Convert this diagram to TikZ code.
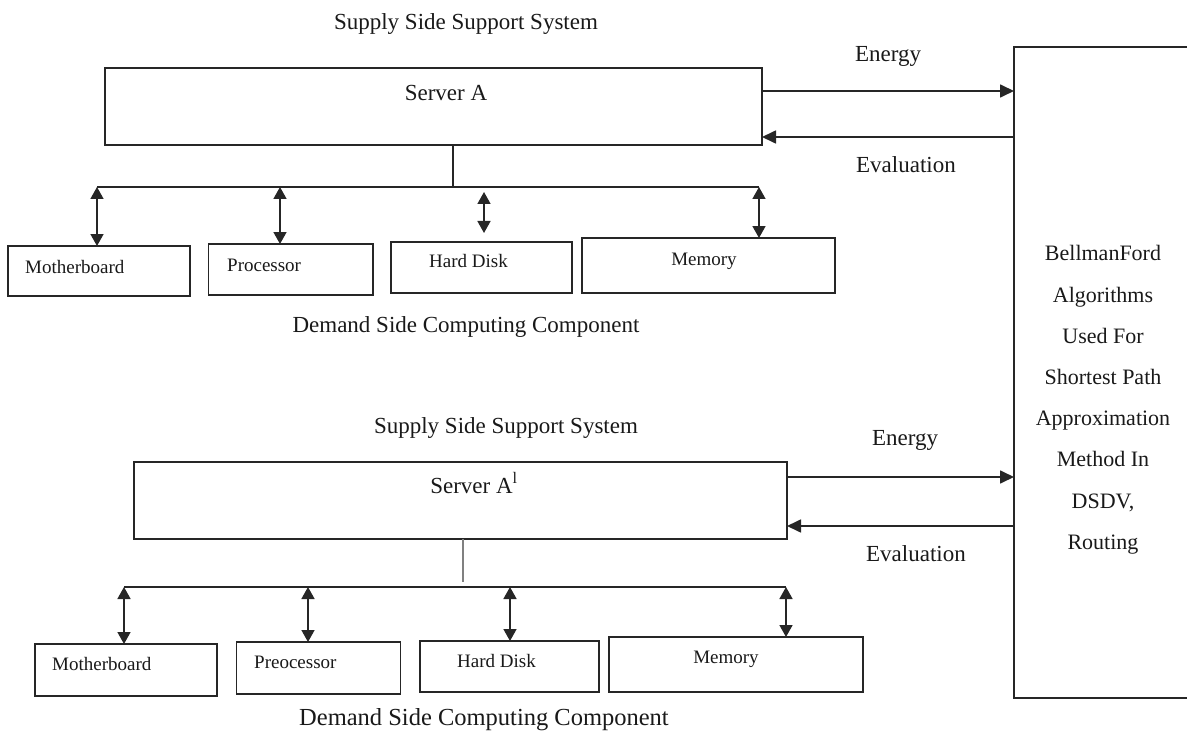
\documentclass[tikz,border=0pt]{standalone}
\usepackage{fontspec}
\setmainfont{Liberation Serif}
\usetikzlibrary{arrows.meta}
\begin{document}
\begin{tikzpicture}[x=1pt,y=-1pt,
  box/.style={draw=black!85,line width=1.7pt,inner sep=0pt,outer sep=0pt},
  bus/.style={draw=black!85,line width=1.7pt},
  stub/.style={draw=black!50,line width=1.9pt},
  captxt/.style={font=\fontsize{23}{27}\selectfont,inner sep=0pt,text=black!90},
  bigcaptxt/.style={font=\fontsize{24.5}{28}\selectfont,inner sep=0pt,text=black!90},
  lab/.style={font=\fontsize{19}{22}\selectfont,inner sep=0pt,text=black!90},
  arr/.style={draw=black!85,line width=1.7pt,-{Triangle[length=14pt,width=13pt]}},
  darr/.style={draw=black!85,line width=1.7pt,{Triangle[length=12pt,width=13pt]}-{Triangle[length=12pt,width=13pt]}}
]
\useasboundingbox (0,0) rectangle (1187,733);
\clip (0,0) rectangle (1187,733);

% ---------- right box ----------
\node[box,minimum width=200pt,minimum height=651pt] (rb) at (1114,372.5) {};
\node[font=\fontsize{22}{41.2}\selectfont,inner sep=0pt,align=center,anchor=north,text=black!90] (rbt) at (1103,245.5)
  {BellmanFord\\Algorithms\\Used For\\Shortest Path\\Approximation\\Method In\\DSDV,\\Routing};

% ---------- top section ----------
\node[captxt,anchor=base] (sss1) at (466,30) {Supply Side Support System};
\node[box,minimum width=657pt,minimum height=77pt] (sA) at (433.5,106.5) {};
\node[captxt,anchor=base] (sAt) at (446,101) {Server A};
\node[captxt,anchor=base] (en1) at (888,62) {Energy};
\node[captxt,anchor=base] (ev1) at (906,173) {Evaluation};
\draw[arr] ([yshift=15.5pt]sA.east) -- ([yshift=15.5pt]sA.east -| rb.west);
\draw[arr] ([yshift=-30.5pt]sA.east -| rb.west) -- ([yshift=-30.5pt]sA.east);

\node[box,minimum width=182pt,minimum height=50pt] (mb1) at (99,271) {};
\node[box,minimum width=164.4pt,minimum height=51pt] (pr1) at (290.8,269.5) {};
\node[box,minimum width=181pt,minimum height=51pt] (hd1) at (481.5,267.5) {};
\node[box,minimum width=253pt,minimum height=55pt] (me1) at (708.5,265.5) {};
\node[lab,anchor=base west] (mb1t) at (25,273) {Motherboard};
\node[lab,anchor=base west] (pr1t) at (227,271) {Processor};
\node[lab,anchor=base west] (hd1t) at (429,267) {Hard Disk};
\node[lab,anchor=base] (me1t) at (704,265) {Memory};
\node[captxt,anchor=base] (dsc1) at (466,332) {Demand Side Computing Component};

\coordinate (b0) at (453,187);
\coordinate (b1) at (97,187);
\coordinate (b2) at (280,187);
\coordinate (b3) at (484,187);
\coordinate (b4) at (759,187);
\draw[bus] (sA.south -| b0) -- (b0);
\draw[bus] (b1) -- (b4);
\draw[darr] (b1) -- (b1 |- mb1.north);
\draw[darr] (b2) -- (b2 |- pr1.north);
\draw[darr] ([yshift=-5pt]b3) -- ([yshift=9pt]b3 |- hd1.north);
\draw[darr] (b4) -- (b4 |- me1.north);

% ---------- bottom section ----------
\node[captxt,anchor=base] (sss2) at (506,433) {Supply Side Support System};
\node[box,minimum width=653pt,minimum height=77pt] (sB) at (460.5,500.5) {};
\node[captxt,anchor=base] (sBt) at (474,493) {Server A\textsuperscript{l}};
\node[captxt,anchor=base] (en2) at (905,445) {Energy};
\node[captxt,anchor=base] (ev2) at (916,561) {Evaluation};
\draw[arr] ([yshift=23.5pt]sB.east) -- ([yshift=23.5pt]sB.east -| rb.west);
\draw[arr] ([yshift=-25.5pt]sB.east -| rb.west) -- ([yshift=-25.5pt]sB.east);

\node[box,minimum width=182pt,minimum height=52pt] (mb2) at (126,670) {};
\node[box,minimum width=164pt,minimum height=52pt] (pr2) at (318.6,668) {};
\node[box,minimum width=179pt,minimum height=51pt] (hd2) at (509.5,666.5) {};
\node[box,minimum width=254pt,minimum height=55pt] (me2) at (736,664.5) {};
\node[lab,anchor=base west] (mb2t) at (52,670) {Motherboard};
\node[lab,anchor=base west] (pr2t) at (254,668) {Preocessor};
\node[lab,anchor=base west] (hd2t) at (457,667) {Hard Disk};
\node[lab,anchor=base] (me2t) at (726,663) {Memory};
\node[bigcaptxt,anchor=base] (dsc2) at (484,725) {Demand Side Computing Component};

\coordinate (c0) at (463,582);
\coordinate (c1) at (124,587);
\coordinate (c2) at (308,587);
\coordinate (c3) at (510,587);
\coordinate (c4) at (786,587);
\draw[stub] (sB.south -| c0) -- (c0);
\draw[bus] (c1) -- (c4);
\draw[darr] (c1) -- (c1 |- mb2.north);
\draw[darr] (c2) -- (c2 |- pr2.north);
\draw[darr] (c3) -- (c3 |- hd2.north);
\draw[darr] (c4) -- (c4 |- me2.north);
\end{tikzpicture}
\end{document}
